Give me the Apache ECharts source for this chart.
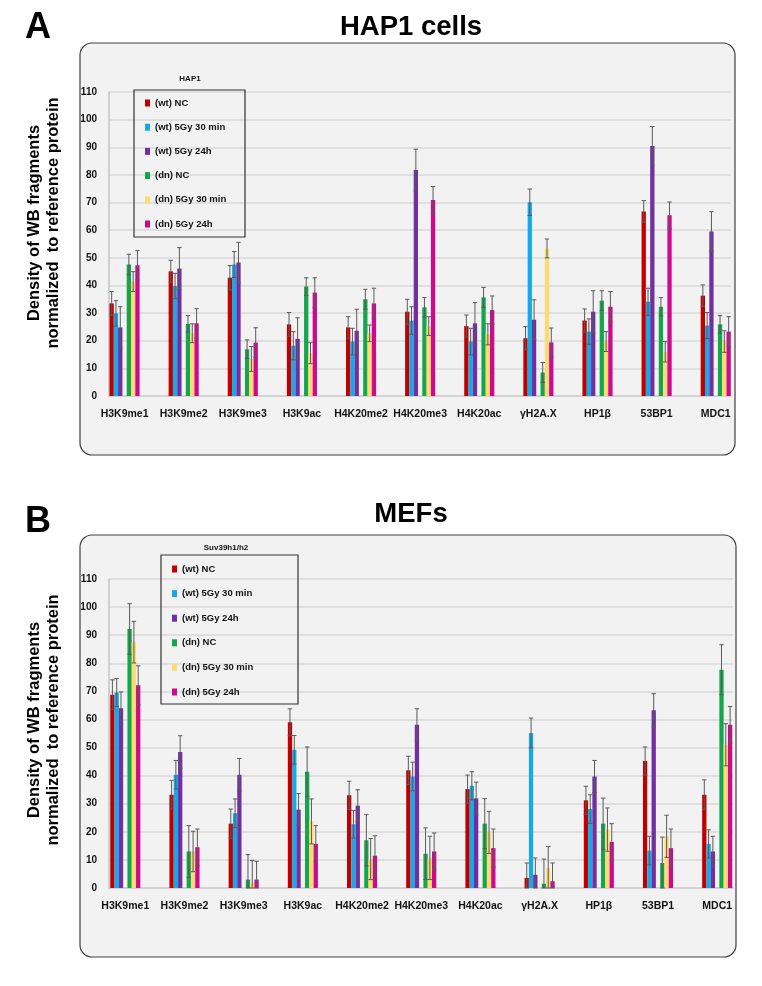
<!DOCTYPE html>
<html>
<head>
<meta charset="utf-8">
<script src="https://cdn.jsdelivr.net/npm/echarts@6/dist/echarts.min.js"></script>
<style>
  html, body { margin: 0; padding: 0; background: #fff; }
  #chart { width: 762px; height: 986px; }
</style>
</head>
<body>
<div id="chart"></div>
<script>
// categories shared by both panels
const categories = ['H3K9me1', 'H3K9me2', 'H3K9me3', 'H3K9ac', 'H4K20me2', 'H4K20me3', 'H4K20ac', 'γH2A.X', 'HP1β', '53BP1', 'MDC1'];
const seriesNames = ['(wt) NC', '(wt) 5Gy 30 min', '(wt) 5Gy 24h', '(dn) NC', '(dn) 5Gy 30 min', '(dn) 5Gy 24h'];
const yTicks = [0, 10, 20, 30, 40, 50, 60, 70, 80, 90, 100, 110];

// panel A - HAP1 cells
const hapWtNC  = [33.5, 45.1, 42.8, 25.9, 24.8, 30.5, 25.3, 20.9, 27.3, 66.8, 36.3];
const hapWt30  = [29.9, 39.8, 47.6, 18.2, 19.7, 27.3, 19.7, 70.1, 23.3, 34.1, 25.5];
const hapWt24  = [24.8, 46.1, 48.3, 20.7, 23.6, 81.8, 26.3, 27.6, 30.5, 90.5, 59.5];
const hapDnNC  = [47.6, 26.1, 16.9, 39.6, 35.0, 32.1, 35.7, 8.5, 34.5, 32.3, 25.9];
const hapDn30  = [41.4, 22.7, 13.4, 15.5, 22.7, 25.3, 22.3, 53.4, 19.7, 16.0, 19.7];
const hapDn24  = [47.3, 26.3, 19.3, 37.4, 33.5, 70.9, 31.1, 19.4, 32.3, 65.4, 23.3];
const hapErrWtNC = [4.3, 4.0, 4.4, 4.3, 3.9, 4.5, 4.0, 4.2, 4.2, 3.9, 3.9];
const hapErrWt30 = [4.6, 4.6, 4.7, 5.1, 4.8, 5.0, 4.8, 4.8, 4.6, 4.9, 4.7];
const hapErrWt24 = [7.5, 7.6, 7.3, 7.6, 7.8, 7.5, 7.5, 7.2, 7.6, 7.0, 7.2];
const hapErrDnNC = [3.7, 3.0, 3.4, 3.2, 3.6, 3.5, 3.6, 3.6, 3.6, 3.3, 3.2];
const hapErrDn30 = [3.6, 3.4, 4.5, 3.8, 3.0, 3.4, 3.8, 3.4, 3.6, 3.7, 3.9];
const hapErrDn24 = [5.3, 5.3, 5.4, 5.4, 5.5, 4.9, 5.1, 5.2, 5.5, 4.8, 5.4];

// panel B - MEFs
const mefWtNC  = [68.8, 33.2, 22.9, 59.0, 33.0, 41.9, 35.2, 3.6, 31.2, 45.2, 33.2];
const mefWt30  = [69.6, 40.3, 26.6, 49.2, 22.7, 39.7, 36.4, 55.2, 28.1, 13.3, 15.7];
const mefWt24  = [64.0, 48.4, 40.3, 27.9, 29.3, 58.1, 31.9, 4.7, 39.7, 63.3, 13.0];
const mefDnNC  = [92.2, 13.0, 3.0, 41.4, 17.0, 12.2, 22.9, 1.5, 22.9, 8.9, 77.7];
const mefDn30  = [87.5, 13.0, 1.8, 23.7, 10.3, 10.7, 19.8, 7.1, 20.8, 18.4, 51.0];
const mefDn24  = [72.2, 14.5, 3.0, 15.7, 11.5, 13.0, 14.2, 2.4, 16.4, 14.2, 58.1];
const mefErrWtNC = [5.3, 5.1, 5.2, 4.8, 5.0, 5.0, 5.0, 5.3, 5.0, 5.0, 5.3];
const mefErrWt30 = [5.0, 5.1, 5.1, 5.1, 4.9, 5.1, 5.0, 5.3, 5.1, 5.1, 5.0];
const mefErrWt24 = [5.8, 5.8, 5.8, 5.7, 5.7, 5.7, 5.8, 6.0, 5.7, 5.9, 5.4];
const mefErrDnNC = [9.0, 9.2, 8.9, 8.8, 9.1, 9.2, 8.9, 8.8, 9.1, 9.2, 8.9];
const mefErrDn30 = [7.4, 7.2, 8.0, 8.0, 7.3, 7.7, 7.5, 7.7, 7.7, 7.5, 7.5];
const mefErrDn24 = [6.9, 6.5, 6.5, 6.5, 7.1, 6.6, 6.8, 6.5, 6.5, 6.8, 6.5];

const colors = ['#c00000', '#17a8e6', '#7030a0', '#15a64d', '#fcdc72', '#cd0a8e'];
const BAR_W = 4.3;
const slots = [0, 1, 2, 4, 5, 6]; // slot 3 is the empty gap between wt and dn

const chart = echarts.init(document.getElementById('chart'));

const sans = '"Liberation Sans", Arial, sans-serif';

function errRender(params, api) {
  const cat = api.value(0), val = api.value(1), err = api.value(2), slot = api.value(3);
  const x = api.coord([cat, val])[0] + (slot - 3) * BAR_W;
  const yTop = api.coord([cat, val + err])[1];
  const yBot = api.coord([cat, Math.max(val - err, 0)])[1];
  const style = { stroke: '#5a5a5a', lineWidth: 1 };
  return {
    type: 'group',
    children: [
      { type: 'line', shape: { x1: x, y1: yTop, x2: x, y2: yBot }, style: style },
      { type: 'line', shape: { x1: x - 2.2, y1: yTop, x2: x + 2.2, y2: yTop }, style: style },
      { type: 'line', shape: { x1: x - 2.2, y1: yBot, x2: x + 2.2, y2: yBot }, style: style }
    ]
  };
}

function panelSeries(axisIdx, vals, errs) {
  const out = [];
  vals.forEach((v, s) => {
    if (s === 3) {
      out.push({ type: 'bar', name: 'gap', xAxisIndex: axisIdx, yAxisIndex: axisIdx,
        barWidth: BAR_W, barGap: '0%', data: categories.map(() => null), silent: true });
    }
    out.push({
      type: 'bar', name: seriesNames[s], xAxisIndex: axisIdx, yAxisIndex: axisIdx,
      barWidth: BAR_W, barGap: '0%', data: v, itemStyle: { color: colors[s] }
    });
  });
  const errData = [];
  vals.forEach((v, s) => v.forEach((val, i) => errData.push([i, val, errs[s][i], slots[s]])));
  out.push({ type: 'custom', xAxisIndex: axisIdx, yAxisIndex: axisIdx, z: 5,
    renderItem: errRender, data: errData, silent: true });
  return out;
}

const hapVals = [hapWtNC, hapWt30, hapWt24, hapDnNC, hapDn30, hapDn24];
const hapErrs = [hapErrWtNC, hapErrWt30, hapErrWt24, hapErrDnNC, hapErrDn30, hapErrDn24];
const mefVals = [mefWtNC, mefWt30, mefWt24, mefDnNC, mefDn30, mefDn24];
const mefErrs = [mefErrWtNC, mefErrWt30, mefErrWt24, mefErrDnNC, mefErrDn30, mefErrDn24];

function barX(gridIndex) {
  return {
    type: 'category', gridIndex: gridIndex, data: categories,
    axisLine: { show: false }, axisTick: { show: false },
    axisLabel: { interval: 0, margin: 13, color: '#111', fontWeight: 'bold', fontSize: 10.5, fontFamily: sans }
  };
}
function hiddenY(gridIndex) {
  return { type: 'value', gridIndex: gridIndex, min: 0, max: 110, interval: 10, show: false, splitLine: { show: false } };
}
function frameX(gridIndex) {
  return {
    type: 'category', gridIndex: gridIndex, data: categories,
    axisLine: { show: true, lineStyle: { color: '#d0d0d0', width: 1.5 } },
    axisTick: { show: false }, axisLabel: { show: false }
  };
}
function frameY(gridIndex) {
  return {
    type: 'value', gridIndex: gridIndex, min: 0, max: 110, interval: 10,
    axisLine: { show: true, lineStyle: { color: '#c4c4c4', width: 1.5 } },
    axisTick: { show: false },
    splitLine: { lineStyle: { color: '#d9d9d9', width: 1.5 } },
    axisLabel: { margin: 12, color: '#111', fontWeight: 'bold', fontSize: 10, fontFamily: sans,
      formatter: v => (yTicks.indexOf(v) >= 0 ? String(v) : '') }
  };
}

function legend(left, top, gap) {
  return {
    data: seriesNames, orient: 'vertical', left: left, top: top, padding: 0,
    icon: 'rect', itemWidth: 5, itemHeight: 7, itemGap: gap,
    textStyle: { fontSize: 9.5, fontWeight: 'bold', color: '#111', fontFamily: sans, padding: [0, 0, 0, 0] }
  };
}

function label(text, left, top, size, align) {
  return { text: text, left: left, top: top, padding: 0, textAlign: align,
    textStyle: { fontSize: size, fontWeight: 'bold', color: size > 10 ? '#000' : '#111', fontFamily: sans } };
}

const yTitle = 'Density of WB fragments\nnormalized  to reference protein';

const option = {
  animation: false,
  title: [
    label('HAP1 cells', 411, 13, 27.5, 'center'),
    label('MEFs', 411, 500, 27.5, 'center'),
    label('A', 25, 10, 36, 'left'),
    label('B', 25, 504, 36, 'left'),
    label('HAP1', 190, 75, 8, 'center'),
    label('Suv39h1/h2', 226, 544, 8, 'center')
  ],
  legend: [legend(145, 98, 14.2), legend(172, 564, 14.6)],
  graphic: [
    { type: 'rect', z: -10, shape: { x: 80, y: 43, width: 655, height: 412, r: 12 },
      style: { fill: '#f2f2f2', stroke: '#404040', lineWidth: 1.2 } },
    { type: 'rect', z: -10, shape: { x: 80, y: 535, width: 656, height: 422, r: 12 },
      style: { fill: '#f2f2f2', stroke: '#404040', lineWidth: 1.2 } },
    { type: 'rect', z: 1, shape: { x: 134, y: 90, width: 111, height: 147 },
      style: { fill: 'none', stroke: '#333', lineWidth: 1.2 } },
    { type: 'rect', z: 1, shape: { x: 161, y: 555, width: 137, height: 149 },
      style: { fill: 'none', stroke: '#333', lineWidth: 1.2 } },
    { type: 'text', x: 44, y: 223, rotation: Math.PI / 2, z: 1,
      style: { text: yTitle, textAlign: 'center', textVerticalAlign: 'middle',
        font: 'bold 16.5px "Liberation Sans", Arial, sans-serif', lineHeight: 19, fill: '#000' } },
    { type: 'text', x: 44, y: 720, rotation: Math.PI / 2, z: 1,
      style: { text: yTitle, textAlign: 'center', textVerticalAlign: 'middle',
        font: 'bold 16.5px "Liberation Sans", Arial, sans-serif', lineHeight: 19, fill: '#000' } }
  ],
  grid: [
    { left: 109, right: 31, top: 92, bottom: 590 },   // A frame
    { left: 95, right: 16.7, top: 92, bottom: 590 },  // A bars
    { left: 109, right: 29, top: 579, bottom: 98 },   // B frame
    { left: 95.7, right: 15.2, top: 579, bottom: 98 } // B bars
  ],
  xAxis: [frameX(0), barX(1), frameX(2), barX(3)],
  yAxis: [frameY(0), hiddenY(1), frameY(2), hiddenY(3)],
  series: [].concat(panelSeries(1, hapVals, hapErrs), panelSeries(3, mefVals, mefErrs))
};

chart.setOption(option);
</script>
</body>
</html>
